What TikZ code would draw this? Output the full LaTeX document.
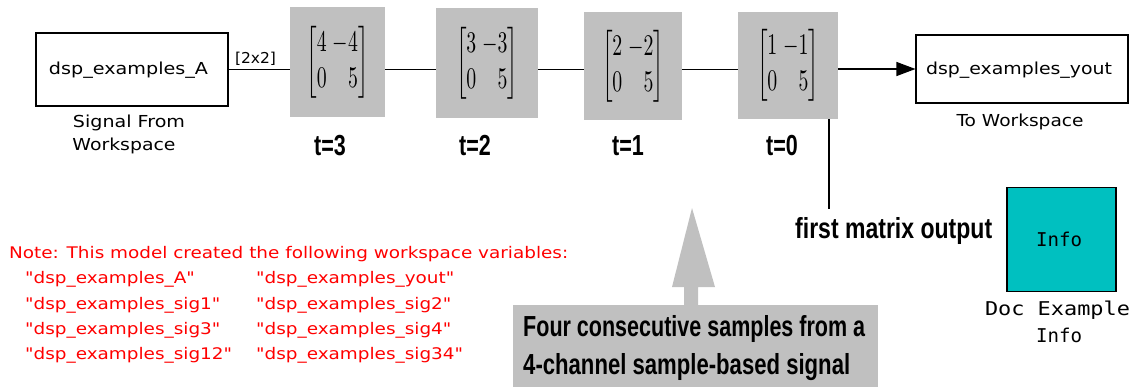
\documentclass[tikz,border=0pt]{standalone}
\usepackage{fontspec}
\setmainfont{DejaVu Sans}
\newfontfamily\monof{DejaVu Sans Mono}
\newfontfamily\annf{Liberation Sans}
\newfontfamily\notef{DejaVu Sans}[Ligatures=TeXOff]
\usepackage{graphicx}
\usetikzlibrary{arrows.meta}
\definecolor{simgray}{RGB}{192,192,192}
\definecolor{infocyan}{RGB}{0,192,192}
\definecolor{notered}{RGB}{255,0,0}
\newcommand\fitw[2]{\resizebox{#1pt}{\height}{#2}}
\newcommand\mymat[1]{\resizebox*{62pt}{72pt}{$\left[\begin{array}{@{}l@{\hspace{0.3em}}r@{}}#1&-#1\\0&5\end{array}\right]$}}
\newlength\notew
\newlength\annw
\newcommand\notesz{\notef\fontsize{16}{18}\selectfont}
\newcommand\annsz{\annf\bfseries\fontsize{29}{32}\selectfont}
\begin{document}
\settowidth\notew{\notesz Note: This model created the following workspace variables:}%
\pgfmathsetmacro\ns{559/\notew}%
\settowidth\annw{\annsz Four consecutive samples from a}%
\pgfmathsetmacro\as{342/\annw}%
\begin{tikzpicture}[x=1pt,y=-1pt,
  blk/.style={draw, line width=1.1pt, fill=white, inner sep=0},
  mbox/.style={fill=simgray, inner sep=0},
  lbl/.style={inner sep=0, font=\fontsize{16.5}{18}\selectfont},
  monolbl/.style={inner sep=0, font=\monof\fontsize{19}{21}\selectfont},
  conn/.style={line width=1.1pt},
  note/.style={inner sep=0, text=notered, font=\notesz, anchor=west},
  ann/.style={inner sep=0, font=\annsz, anchor=base west},
  annc/.style={inner sep=0, font=\annsz, anchor=base}]
\useasboundingbox (0,0) rectangle (1137,386);
% blocks
\node[blk, minimum width=192pt, minimum height=73pt] (src) at (132,69.5) {};
\node[lbl] (srctxt) at (128.5,70) {\fitw{159}{dsp\_examples\_A}};
\node[lbl] (srcl1) at (129,123) {\fitw{112}{Signal From}};
\node[lbl] (srcl2) at (124,146) {\fitw{103}{Workspace}};
\node[lbl, font=\fontsize{15}{17}\selectfont] (dim) at (255.5,59) {\fitw{41}{[2x2]}};
\node[mbox, minimum width=95pt, minimum height=110pt] (b1) at (337.5,62) {\mymat{4}};
\node[mbox, minimum width=102pt, minimum height=110pt] (b2) at (487,63) {\mymat{3}};
\node[mbox, minimum width=98pt, minimum height=108pt] (b3) at (633,66) {\mymat{2}};
\node[mbox, minimum width=100pt, minimum height=107pt] (b4) at (788,65.5) {\mymat{1}};
\node[annc] (t3) at (330,155) {\scalebox{\as}[1]{t=3}};
\node[annc] (t2) at (475,155) {\scalebox{\as}[1]{t=2}};
\node[annc] (t1) at (628,155) {\scalebox{\as}[1]{t=1}};
\node[annc] (t0) at (782,155) {\scalebox{\as}[1]{t=0}};
\node[blk, minimum width=212pt, minimum height=68pt] (yout) at (1022,69) {};
\node[lbl] (youttxt) at (1019,70) {\fitw{186}{dsp\_examples\_yout}};
\node[lbl] (youtl) at (1020,122) {\fitw{127}{To Workspace}};
% connectors
\draw[conn] (src.east) -- (b1.west |- src.east);
\draw[conn] (b1.east |- src.east) -- (b2.west |- src.east);
\draw[conn] (b2.east |- src.east) -- (b3.west |- src.east);
\draw[conn] (b3.east |- src.east) -- (b4.west |- src.east);
\draw[conn, -{Triangle[length=19pt,width=14pt]}] (b4.east |- yout.west) -- (yout.west);
% first matrix output
\coordinate (fmtop) at (829,209);
\draw[conn] (b4.south -| fmtop) -- (fmtop);
\node[ann] (fmo) at (795,238) {\fitw{197}{first matrix output}};
% info block
\node[draw, line width=1.1pt, fill=infocyan, inner sep=0, minimum width=109pt, minimum height=104.5pt] (info) at (1061.5,239.5) {};
\node[monolbl] (infotxt) at (1059,239) {\fitw{46}{Info}};
\node[monolbl] (infol1) at (1057.5,310) {\fitw{145}{Doc Example}};
\node[monolbl] (infol2) at (1059,335) {\fitw{46}{Info}};
% annotation box and arrow
\node[fill=simgray, inner sep=0, minimum width=365pt, minimum height=82pt] (annbox) at (695.5,346) {};
\fill[simgray] (692,208) -- (715,287) -- (698,287) -- (698,306) -- (684,306) -- (684,287) -- (672,287) -- cycle;
\node[ann] (ann1) at (523,336) {\scalebox{\as}[1]{Four consecutive samples from a}};
\node[ann] (ann2) at (523,374) {\fitw{327}{4-channel sample-based signal}};
% notes
\node[note] (n0) at (9,254) {\scalebox{\ns}[1]{Note: This model created the following workspace variables:}};
\node[note] (n1) at (25,279) {\scalebox{\ns}[1]{"dsp\_examples\_A"}};
\node[note] (n2) at (25,305) {\scalebox{\ns}[1]{"dsp\_examples\_sig1"}};
\node[note] (n3) at (25,330) {\scalebox{\ns}[1]{"dsp\_examples\_sig3"}};
\node[note] (n4) at (25,355) {\scalebox{\ns}[1]{"dsp\_examples\_sig12"}};
\node[note] (m1) at (256,279) {\scalebox{\ns}[1]{"dsp\_examples\_yout"}};
\node[note] (m2) at (256,305) {\scalebox{\ns}[1]{"dsp\_examples\_sig2"}};
\node[note] (m3) at (256,330) {\scalebox{\ns}[1]{"dsp\_examples\_sig4"}};
\node[note] (m4) at (256,355) {\scalebox{\ns}[1]{"dsp\_examples\_sig34"}};
\end{tikzpicture}
\end{document}
